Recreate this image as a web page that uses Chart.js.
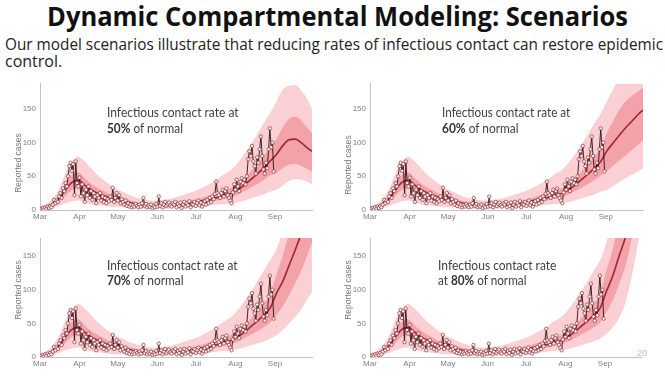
<!DOCTYPE html>
<html><head><meta charset="utf-8">
<script src="https://cdn.jsdelivr.net/npm/chart.js@4.4.0/dist/chart.umd.min.js"></script>
<style>
html,body{margin:0;padding:0;background:#fff;}
body{width:665px;height:380px;position:relative;overflow:hidden;}
.t{position:absolute;white-space:nowrap;transform-origin:0 0;line-height:1;}
#title{font-family:"Open Sans";font-weight:700;font-size:26px;color:#111;left:47px;top:3px;}
.sub{font-family:"Open Sans";font-size:16px;color:#222;left:5px;}
.ann{font-family:Lato;font-size:13px;color:#404040;}
.ann b{font-weight:700;color:#333;}
.yt{position:absolute;width:0;height:0;}
.yt span{position:absolute;white-space:nowrap;font-family:"Liberation Sans";font-size:8.5px;color:#7a7a7a;transform:translate(-50%,-50%) rotate(-90deg);}
canvas{position:absolute;}
#pg{font-family:"Liberation Sans";font-size:9px;color:#bbb;}
</style></head>
<body>
<div id="title" class="t" data-w="581">Dynamic Compartmental Modeling: Scenarios</div>
<div class="t sub" style="top:35.8px" data-w="658">Our model scenarios illustrate that reducing rates of infectious contact can restore epidemic</div>
<div class="t sub" style="top:53.3px">control.</div>

<canvas id="c1"></canvas><canvas id="c2"></canvas><canvas id="c3"></canvas><canvas id="c4"></canvas>

<div class="t ann" style="left:107px;top:106.2px" data-w="131.6">Infectious contact rate at</div>
<div class="t ann" style="left:107px;top:121.8px" data-w="76"><b>50%</b> of normal</div>
<div class="t ann" style="left:442px;top:106.2px" data-w="128.3">Infectious contact rate at</div>
<div class="t ann" style="left:442px;top:121.8px" data-w="76.6"><b>60%</b> of normal</div>
<div class="t ann" style="left:107px;top:258.5px" data-w="130.6">Infectious contact rate at</div>
<div class="t ann" style="left:107px;top:274.2px" data-w="76.6"><b>70%</b> of normal</div>
<div class="t ann" style="left:438px;top:259.2px" data-w="118.4">Infectious contact rate</div>
<div class="t ann" style="left:438px;top:274.2px" data-w="88.4">at <b>80%</b> of normal</div>

<div class="yt" style="left:18px;top:163px"><span>Reported cases</span></div>
<div class="yt" style="left:348px;top:165px"><span>Reported cases</span></div>
<div class="yt" style="left:18px;top:290px"><span>Reported cases</span></div>
<div class="yt" style="left:348px;top:290px"><span>Reported cases</span></div>
<div id="pg" class="t" style="left:637px;top:349px">20</div>

<script>
// ---- axis labels ----
const monthNames = ['Mar','Apr','May','Jun','Jul','Aug','Sep'];
const monthStartDays = [0,31,61,92,122,153,184];
const yTickValues = [0,50,100,150];

// ---- observed daily reported cases (day 1 = Mar 2) ----
const obsStartDay = 1;
const observed = [
  2,3,1,4,2,5,3,6,4,8,
  15,10,14,12,20,25,18,32,28,40,
  35,50,65,70,58,68,22,72,40,35,
  48,20,38,25,12,30,22,35,18,28,
  15,25,20,10,22,18,25,14,20,12,
  18,10,16,13,20,15,33,12,18,25,
  14,22,10,16,12,8,14,6,10,5,
  8,4,7,5,9,6,4,8,5,10,
  18,6,9,4,7,5,8,3,6,4,
  9,5,20,6,10,4,8,12,6,9,
  11,7,5,10,8,12,4,9,6,11,
  3,8,12,5,10,7,13,4,9,8,
  12,6,10,14,7,11,5,9,13,8,
  15,10,18,12,20,16,24,42,25,22,
  18,25,30,20,28,32,22,18,14,10,
  26,38,30,45,35,28,42,47,40,45,
  38,50,75,87,80,95,72,65,54,78,
  70,90,109,80,60,54,70,62,90,121,
  93,100,57
];

// ---- model fit (shared history, days 0..180 every 5 days) ----
const histDays = [0,5,10,15,20,25,30,35,40,45,50,55,60,65,70,75,80,85,90,95,100,105,110,115,120,125,130,135,140,145,150,155,160,165,170,175,180];
const histOuterLo = [0,1,3,6,10,13,14,11,8,7,6,5,4,4,3,3,2,2,2,2,2,3,3,4,4,5,6,7,8,9,10,12,14,17,20,23,27];
const histInnerLo = [1,2,6,12,21,30,32,27,22,18,15,13,11,10,8,7,6,5,5,5,5,6,7,8,8,10,11,13,15,17,19,23,28,33,38,44,51];
const histMedian  = [2,4,9,17,30,41,44,37,30,25,21,18,16,14,11,9,8,7,7,7,7,8,9,10,11,13,15,17,19,22,25,30,37,45,53,62,72];
const histInnerHi = [3,6,12,23,39,52,56,47,39,33,28,23,20,18,15,12,10,9,9,9,10,11,12,14,15,17,20,23,26,29,33,39,47,57,68,80,92];
const histOuterHi = [5,9,17,32,55,72,79,72,62,52,44,37,31,27,22,19,16,15,14,15,16,18,21,24,27,31,36,41,47,54,60,70,83,97,112,128,143];

// ---- scenario projections (days 185..213) ----
const projDays = [185,190,195,200,205,210,213];
// 50% of normal
const p50OuterLo = [30,36,43,46,45,41,38];
const p50InnerLo = [55,62,67,68,65,60,57];
const p50Median  = [82,95,104,105,99,91,87];
const p50InnerHi = [105,122,135,138,132,120,114];
const p50OuterHi = [160,178,184,185,176,162,150];
// 60% of normal
const p60OuterLo = [30,36,42,48,53,58,61];
const p60InnerLo = [58,66,74,82,90,98,103];
const p60Median  = [88,100,112,123,133,143,148];
const p60InnerHi = [115,133,150,162,170,177,181];
const p60OuterHi = [162,180,200,220,240,255,265];
// 70% of normal
const p70OuterLo = [32,40,50,60,72,88,97];
const p70InnerLo = [62,75,92,110,130,155,170];
const p70Median  = [94,112,136,160,186,215,235];
const p70InnerHi = [122,150,185,220,260,300,330];
const p70OuterHi = [160,190,240,290,340,400,440];
// 80% of normal
const p80OuterLo = [34,44,58,80,120,170,200];
const p80InnerLo = [66,84,108,135,175,225,260];
const p80Median  = [97,120,150,178,215,260,290];
const p80InnerHi = [128,160,205,260,330,420,480];
const p80OuterHi = [170,215,280,360,460,600,700];

const modelDays = histDays.concat(projDays);
const toPts = (days, vals) => vals.map((v, i) => ({x: days[i], y: v}));
const obsPts = observed.map((v, i) => ({x: obsStartDay + i, y: v}));

function makePanel(id, box, area, yMax, proj) {
  const c = document.getElementById(id);
  c.width = box.w; c.height = box.h;
  c.style.left = box.x + 'px'; c.style.top = box.y + 'px';
  const band = (hist, p) => toPts(modelDays, hist.concat(p));
  const tickFont = {family: 'Liberation Sans', size: 8};
  new Chart(c, {
    type: 'line',
    data: {
      datasets: [
        {data: obsPts, borderColor: '#2a1212', borderWidth: 0.9, pointRadius: 1.7, pointBorderWidth: 0.7,
         pointBorderColor: '#8c3238', pointBackgroundColor: '#fdeef0', tension: 0, fill: false},
        {data: band(histMedian, proj.median), borderColor: '#9b2733', borderWidth: 1.6, pointRadius: 0,
         cubicInterpolationMode: 'monotone', fill: false},
        {data: band(histInnerHi, proj.innerHi), borderWidth: 0, pointRadius: 0, cubicInterpolationMode: 'monotone',
         fill: 3, backgroundColor: '#f3a2aa'},
        {data: band(histInnerLo, proj.innerLo), borderWidth: 0, pointRadius: 0, cubicInterpolationMode: 'monotone', fill: false},
        {data: band(histOuterHi, proj.outerHi), borderWidth: 0, pointRadius: 0, cubicInterpolationMode: 'monotone',
         fill: 5, backgroundColor: '#fbd0d4'},
        {data: band(histOuterLo, proj.outerLo), borderWidth: 0, pointRadius: 0, cubicInterpolationMode: 'monotone', fill: false}
      ]
    },
    options: {
      responsive: false, animation: false, devicePixelRatio: 1,
      layout: {padding: {left: 0, bottom: 0, top: area.t - box.y, right: box.x + box.w - area.r}},
      plugins: {legend: {display: false}, tooltip: {enabled: false}},
      scales: {
        x: {
          type: 'linear', min: 0, max: 213,
          afterBuildTicks: s => { s.ticks = monthStartDays.map(v => ({value: v})); },
          afterFit: s => { s.height = box.y + box.h - area.b; },
          ticks: {callback: v => monthNames[monthStartDays.indexOf(v)], autoSkip: false, maxRotation: 0,
                  font: tickFont, color: '#7f7f7f', padding: 2},
          grid: {display: false, drawTicks: false},
          border: {display: true, color: '#c4c4c4', width: 1}
        },
        y: {
          type: 'linear', min: 0, max: yMax,
          afterBuildTicks: s => { s.ticks = yTickValues.map(v => ({value: v})); },
          afterFit: s => { s.width = area.l - box.x; },
          ticks: {font: tickFont, color: '#7f7f7f', padding: 4},
          grid: {display: false, drawTicks: false},
          border: {display: true, color: '#c4c4c4', width: 1}
        }
      }
    }
  });
}

makePanel('c1', {x: 8, y: 75, w: 322, h: 150}, {l: 40, t: 82, r: 312, b: 210}, 187,
  {outerLo: p50OuterLo, innerLo: p50InnerLo, median: p50Median, innerHi: p50InnerHi, outerHi: p50OuterHi});
makePanel('c2', {x: 338, y: 75, w: 322, h: 150}, {l: 370, t: 82, r: 643, b: 210}, 187,
  {outerLo: p60OuterLo, innerLo: p60InnerLo, median: p60Median, innerHi: p60InnerHi, outerHi: p60OuterHi});
makePanel('c3', {x: 8, y: 228, w: 322, h: 150}, {l: 40, t: 238, r: 312, b: 357}, 177,
  {outerLo: p70OuterLo, innerLo: p70InnerLo, median: p70Median, innerHi: p70InnerHi, outerHi: p70OuterHi});
makePanel('c4', {x: 338, y: 228, w: 322, h: 150}, {l: 370, t: 238, r: 642, b: 357}, 177,
  {outerLo: p80OuterLo, innerLo: p80InnerLo, median: p80Median, innerHi: p80InnerHi, outerHi: p80OuterHi});

function fitTexts() {
  document.querySelectorAll('[data-w]').forEach(el => {
    el.style.transform = 'none';
    const w = el.getBoundingClientRect().width;
    if (w > 0) el.style.transform = 'scaleX(' + (parseFloat(el.dataset.w) / w) + ')';
  });
}
fitTexts();
if (document.fonts && document.fonts.ready) document.fonts.ready.then(fitTexts);
</script>
</body></html>
